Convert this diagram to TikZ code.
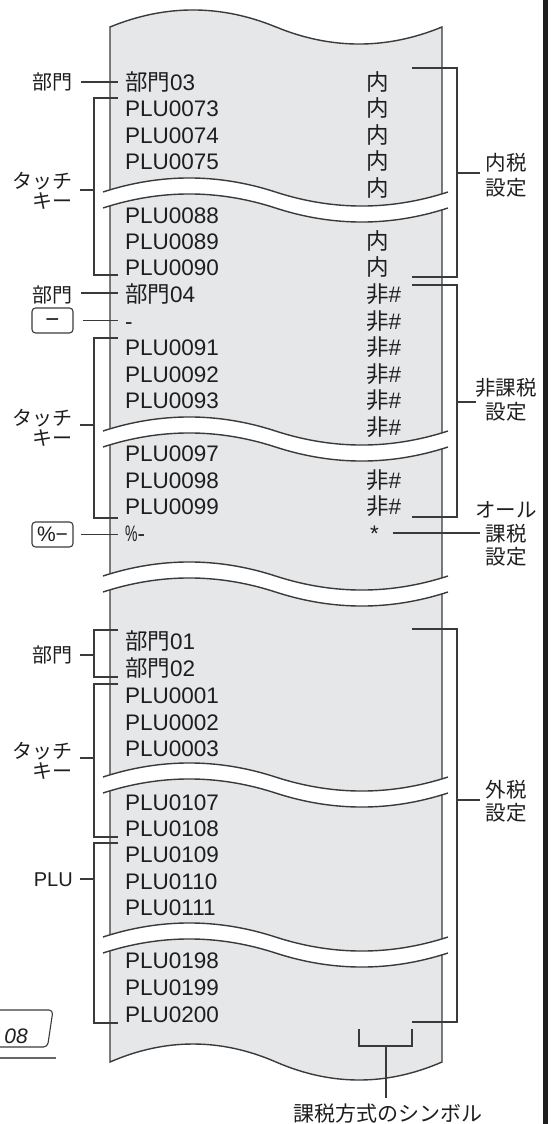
\documentclass[tikz,border=0pt]{standalone}
\usepackage{fontspec}
\usepackage{graphicx}
\setmainfont{Liberation Sans}
\newfontfamily\jp{Noto Sans CJK JP}
\definecolor{paper}{HTML}{E6E7E9}
\definecolor{ink}{HTML}{1E1E1E}
\definecolor{linec}{HTML}{3A3A3A}
\tikzset{
  rc/.style={anchor=base west, inner sep=0pt, text=ink, font=\fontsize{22.5}{24}\selectfont},
  lbl/.style={inner sep=0pt, text=ink, font=\jp\fontsize{20}{22}\selectfont},
  rlbl/.style={anchor=base, inner sep=0pt, text=ink, font=\jp\fontsize{20.5}{22}\selectfont},
  conn/.style={draw=linec, line width=1.1pt},
  rim/.style={draw=linec, line width=1.4pt},
  keybox/.style={draw=linec, line width=1.1pt, rounded corners=3.5pt, minimum width=41pt, minimum height=25pt, inner sep=0pt, text height=13pt, text depth=0pt, text=ink, font=\fontsize{21}{21}\selectfont},
}
\begin{document}
\begin{tikzpicture}[x=1pt,y=-1pt]
\useasboundingbox (0,0) rectangle (555,1124);

% receipt paper
\filldraw[fill=paper, rim] (110,27) .. controls (165.3,4.3) and (220.7,4.3) .. (276,27)
  .. controls (331.3,49.7) and (386.7,49.7) .. (442,27) -- (442,1062)
  .. controls (386.7,1086) and (331.3,1086) .. (276,1062)
  .. controls (220.7,1038) and (165.3,1038) .. (110,1062) -- cycle;

% breaks
\foreach \a/\b in {192/208, 431/447, 576/592, 777/793, 937/953} {
  \fill[white] (103,\a) .. controls (160.5,{\a-18.7}) and (218,{\a-18.7}) .. (275.5,\a)
    .. controls (333,{\a+18.7}) and (390.5,{\a+18.7}) .. (448,\a) -- (448,\b)
    .. controls (390.5,{\b+18.7}) and (333,{\b+18.7}) .. (275.5,\b)
    .. controls (218,{\b-18.7}) and (160.5,{\b-18.7}) .. (103,\b) -- cycle;
  \draw[rim] (103,\a) .. controls (160.5,{\a-18.7}) and (218,{\a-18.7}) .. (275.5,\a)
    .. controls (333,{\a+18.7}) and (390.5,{\a+18.7}) .. (448,\a);
  \draw[rim] (103,\b) .. controls (160.5,{\b-18.7}) and (218,{\b-18.7}) .. (275.5,\b)
    .. controls (333,{\b+18.7}) and (390.5,{\b+18.7}) .. (448,\b);
}

% receipt rows, left column
\node[rc] (r1)  at (125,90)    {{\jp 部門}03};
\node[rc] (r2)  at (125,116.5) {PLU0073};
\node[rc] (r3)  at (125,143)   {PLU0074};
\node[rc] (r4)  at (125,169.5) {PLU0075};
\node[rc] (r5)  at (125,223)   {PLU0088};
\node[rc] (r6)  at (125,249)   {PLU0089};
\node[rc] (r7)  at (125,275)   {PLU0090};
\node[rc] (r8)  at (125,302.5) {{\jp 部門}04};
\node[rc] (r9)  at (125,329)   {-};
\node[rc] (r10) at (125,355.5) {PLU0091};
\node[rc] (r11) at (125,382)   {PLU0092};
\node[rc] (r12) at (125,408.5) {PLU0093};
\node[rc] (r13) at (125,461)   {PLU0097};
\node[rc] (r14) at (125,488)   {PLU0098};
\node[rc] (r15) at (125,514.5) {PLU0099};
\node[rc] (r16) at (125,541)   {\scalebox{0.62}[1]{\%}-};
\node[rc] (s1)  at (125,649.5) {{\jp 部門}01};
\node[rc] (s2)  at (125,676)   {{\jp 部門}02};
\node[rc] (s3)  at (125,703)   {PLU0001};
\node[rc] (s4)  at (125,730)   {PLU0002};
\node[rc] (s5)  at (125,756)   {PLU0003};
\node[rc] (s6)  at (125,810)   {PLU0107};
\node[rc] (s7)  at (125,836)   {PLU0108};
\node[rc] (s8)  at (125,862)   {PLU0109};
\node[rc] (s9)  at (125,889)   {PLU0110};
\node[rc] (s10) at (125,915)   {PLU0111};
\node[rc] (s11) at (125,968)   {PLU0198};
\node[rc] (s12) at (125,995)   {PLU0199};
\node[rc] (s13) at (125,1022)  {PLU0200};

% receipt rows, right column (tax symbols)
\foreach \y [count=\i] in {90,116.5,143,169.5,196,249,275}
  \node[rc, font=\jp\fontsize{22.5}{24}\selectfont] (u\i) at (366,\y) {内};
\foreach \y [count=\i] in {302.5,329,355.5,382,408.5,435,488,514.5}
  \node[rc] (h\i) at (366,\y) {{\jp 非}\#};
\node[rc] (ast) at (370,541) {*};

% left labels
\node[lbl, anchor=base east] (l1) at (73,89.5) {部門};
\node[lbl, anchor=base east] (t1a) at (73,188.5) {タッチ};
\node[lbl, anchor=base east] (t1b) at (73,208.5) {キー};
\node[lbl, anchor=base east] (l2) at (73,302.5) {部門};
\node[keybox, font=\fontsize{24}{24}\selectfont] (k1) at (52.5,320.5) {−};
\node[lbl, anchor=base east] (t2a) at (73,425.5) {タッチ};
\node[lbl, anchor=base east] (t2b) at (73,445.5) {キー};
\node[keybox] (k2) at (52.5,534.5) {\%−};
\node[lbl, anchor=base east] (l3) at (73,662) {部門};
\node[lbl, anchor=base east] (t3a) at (73,758.5) {タッチ};
\node[lbl, anchor=base east] (t3b) at (73,778.5) {キー};
\node[lbl, anchor=base east, font=\fontsize{20}{22}\selectfont] (l4) at (73,886) {PLU};

% right labels
\node[rlbl] (n1a) at (506,170.5) {内税};
\node[rlbl] (n1b) at (506,195.5) {設定};
\node[rlbl] (n2a) at (506,395.5) {非課税};
\node[rlbl] (n2b) at (506,419.5) {設定};
\node[rlbl] (n3a) at (506,517.5) {オール};
\node[rlbl] (n3b) at (506,541) {課税};
\node[rlbl] (n3c) at (506,564.5) {設定};
\node[rlbl] (n4a) at (506,797.5) {外税};
\node[rlbl] (n4b) at (506,820.5) {設定};
\node[rlbl, font=\jp\fontsize{21}{22}\selectfont] (sym) at (387.5,1121) {課税方式のシンボル};

% left connectors
\draw[conn] (81,82) -- (118,82);
\draw[conn] (118,98) -- (94,98) -- (94,275) -- (118,275);
\draw[conn] (80,190) -- (94,190);
\draw[conn] (81,293) -- (118,293);
\draw[conn] (k1.east) ++(9,0) -- (118,320.5);
\draw[conn] (118,338) -- (94,338) -- (94,518) -- (118,518);
\draw[conn] (80,425) -- (94,425);
\draw[conn] (k2.east) ++(7,0) -- (118,534.5);
\draw[conn] (118,630) -- (94,630) -- (94,677) -- (118,677);
\draw[conn] (80,655) -- (94,655);
\draw[conn] (118,684) -- (94,684) -- (94,837) -- (118,837);
\draw[conn] (80,758) -- (94,758);
\draw[conn] (118,843) -- (94,843) -- (94,1023) -- (118,1023);
\draw[conn] (80,879) -- (94,879);

% right connectors
\draw[conn] (412,68) -- (457,68) -- (457,277) -- (412,277);
\draw[conn] (457,173) -- (480,173);
\draw[conn] (412,285) -- (457,285) -- (457,517) -- (412,517);
\draw[conn] (457,402) -- (476,402);
\draw[conn] (393,533) -- (480,533);
\draw[conn] (412,629) -- (457,629) -- (457,1022) -- (412,1022);
\draw[conn] (457,800) -- (480,800);
\draw[conn] (359,1029) -- (359,1046) -- (412,1046) -- (412,1029);
\draw[conn] (386,1046) -- (386,1098);

% right border
\draw[line width=4.5pt, draw=ink] (545.5,0) -- (545.5,1124);

% page tab at bottom left
\draw[conn, rounded corners=4pt] (0,1010) -- (53,1010) -- (47.5,1047) -- (0,1047);
\node[anchor=base east, inner sep=0pt, text=ink, font=\itshape\fontsize{21}{22}\selectfont] (pg) at (28,1043) {08};
\draw[line width=2pt, draw=black!60] (0,1058) -- (56,1058);
\end{tikzpicture}
\end{document}
